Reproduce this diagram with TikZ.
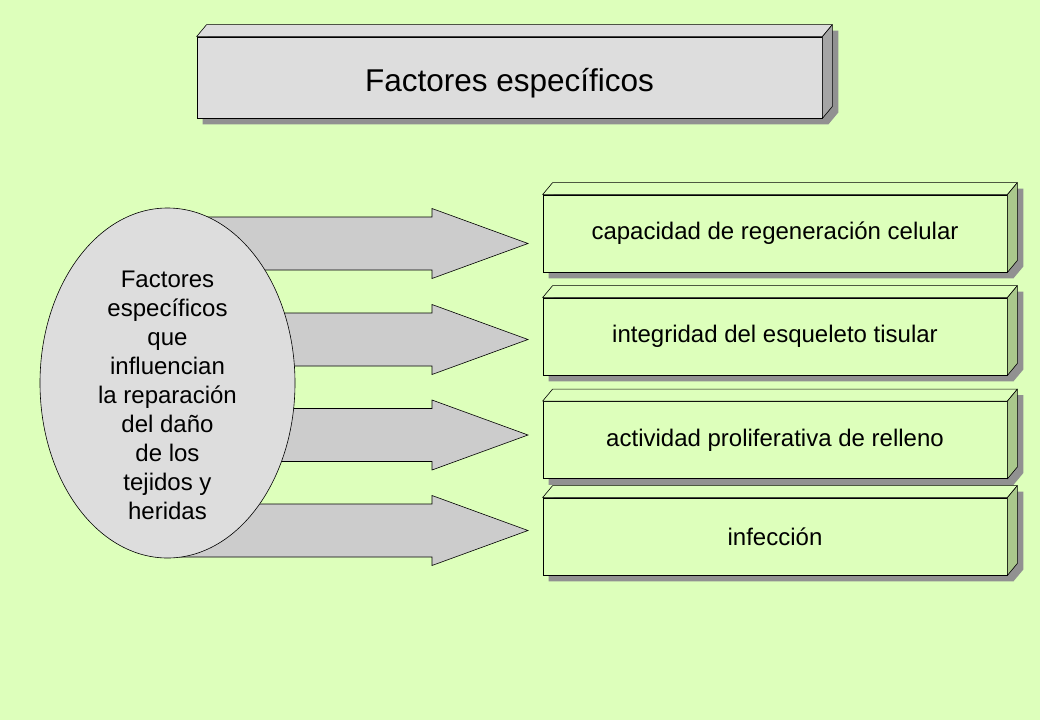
\documentclass[tikz,border=0pt]{standalone}
\usepackage{fontspec}
\setmainfont{Liberation Sans}
\usetikzlibrary{calc}
\definecolor{bg}{RGB}{221,255,187}
\definecolor{greenfront}{RGB}{221,255,187}
\definecolor{greenside}{RGB}{170,200,140}
\definecolor{grayfront}{RGB}{221,221,221}
\definecolor{grayside}{RGB}{165,165,165}
\definecolor{shadowgray}{RGB}{145,145,145}
\definecolor{arrowgray}{RGB}{204,204,204}
\pgfdeclarelayer{backdrop}
\pgfdeclarelayer{bglayer}
\pgfsetlayers{backdrop,bglayer,main}
\tikzset{
  frontface/.style={draw=black, line width=0.8pt, inner sep=0pt, align=center},
  facestyle/.style={draw=black, line width=0.6pt, line join=round},
  bigarrow/.style={draw=black, line width=0.6pt, fill=arrowgray, line join=miter},
  boxtext/.style={font=\fontsize{24}{29}\selectfont},
  titletext/.style={font=\fontsize{31.5}{36}\selectfont},
}
% #1 name, #2 center, #3 width, #4 height, #5 front colour, #6 side colour, #7 style, #8 text
\newcommand\tdbox[8]{%
  \node[frontface, fill=#5, minimum width=#3pt, minimum height=#4pt, #7] (#1) at (#2) {#8};
  \begin{pgfonlayer}{bglayer}
    \fill[shadowgray] ($(#1.south west)+(6,6)$) -- ($(#1.south east)+(6,6)$) -- ($(#1.south east)+(16,-6)$)
      -- ($(#1.north east)+(16,-6)$) -- ($(#1.north west)+(16,-6)$) -- ($(#1.north west)+(6,6)$) -- cycle;
  \end{pgfonlayer}
  \filldraw[facestyle, fill=#5] (#1.north west) -- ($(#1.north west)+(10,-12)$) -- ($(#1.north east)+(10,-12)$) -- (#1.north east) -- cycle;
  \filldraw[facestyle, fill=#6] (#1.north east) -- ($(#1.north east)+(10,-12)$) -- ($(#1.south east)+(10,-12)$) -- (#1.south east) -- cycle;
}
\newcommand\fatarrow[1]{%
  \filldraw[bigarrow] (#1) ++(0,-26.5) -- ++(252,0) -- ++(0,-8.5) -- ++(96,35) -- ++(-96,35) -- ++(0,-8.5) -- ++(-252,0) -- cycle;
}
\begin{document}
\begin{tikzpicture}[x=1pt,y=-1pt]
\begin{pgfonlayer}{backdrop}
\fill[bg] (0,0) rectangle (1040,720);
\end{pgfonlayer}
\useasboundingbox (0,0) rectangle (1040,720);

% title
\tdbox{title}{509.5,77.5}{625}{81}{grayfront}{grayside}{titletext, text depth=0pt, text height=28pt}{Factores específicos}

% right boxes
\tdbox{b1}{775,233.5}{464}{77}{greenfront}{greenside}{boxtext}{capacidad de regeneración celular}
\tdbox{b2}{775,336.5}{464}{77}{greenfront}{greenside}{boxtext}{integridad del esqueleto tisular}
\tdbox{b3}{775,440}{464}{77}{greenfront}{greenside}{boxtext}{actividad proliferativa de relleno}
\tdbox{b4}{775,536.5}{464}{77}{greenfront}{greenside}{boxtext}{infección}

% arrows
\coordinate (a1) at (180,243.5);
\coordinate (a2) at (180,339.5);
\coordinate (a3) at (180,435);
\coordinate (a4) at (180,530.5);
\fatarrow{a1}
\fatarrow{a2}
\fatarrow{a3}
\fatarrow{a4}

% ellipse
\coordinate (ec) at (167.5,383);
\filldraw[draw=black, line width=0.6pt, fill=grayfront] (ec) ellipse [x radius=127.5, y radius=175];
\node[boxtext, align=center, inner sep=0pt] (e) at (167.5,395)
  {Factores\\específicos\\que\\influencian\\la reparación\\del daño\\de los\\tejidos y\\heridas};
\end{tikzpicture}
\end{document}
